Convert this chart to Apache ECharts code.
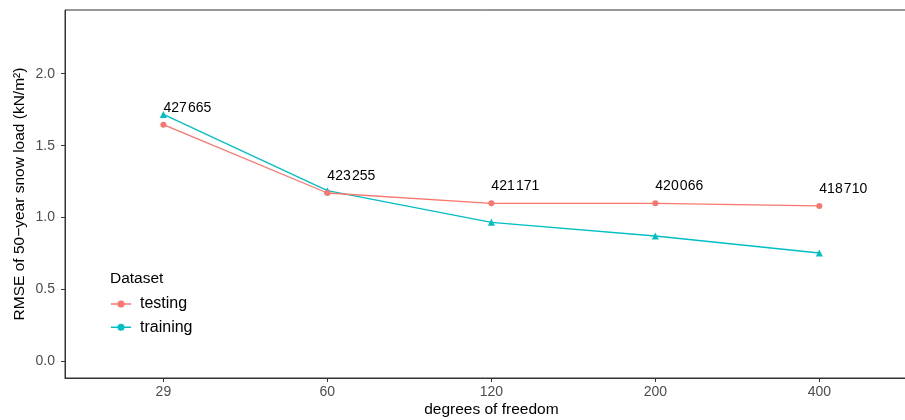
<!DOCTYPE html>
<html>
<head>
<meta charset="utf-8">
<script src="https://cdn.jsdelivr.net/npm/echarts@6/dist/echarts.min.js"></script>
<style>html,body{margin:0;padding:0;background:#fff}#c{width:905px;height:420px}</style>
</head>
<body>
<div id="c"></div>
<script>
var categories = ['29', '60', '120', '200', '400'];
var testing = [1.646, 1.171, 1.099, 1.099, 1.081];
var training = [1.717, 1.187, 0.967, 0.872, 0.754];
var pointLabels = ['427\u200a665', '423\u200a255', '421\u200a171', '420\u200a066', '418\u200a710'];
var yTicks = [0, 0.5, 1.0, 1.5, 2.0];

var FONT = 'Liberation Sans, Arial, sans-serif';
var xIdx = categories.map(function (c, i) { return i + 1; });
var testData = testing.map(function (v, i) { return [i + 1, v]; });
var trainData = training.map(function (v, i) { return [i + 1, v]; });

var iconPath = 'path://M0,2.8L20,2.8L20,4.2L0,4.2Z M13.5,3.5A3.5,3.5,0,1,1,6.5,3.5A3.5,3.5,0,1,1,13.5,3.5Z';

var chart = echarts.init(document.getElementById('c'), null, { renderer: 'canvas' });
chart.setOption({
  backgroundColor: '#ffffff',
  animation: false,
  textStyle: { fontFamily: FONT },
  title: {
    text: 'Dataset', left: 110, top: 271, padding: 0,
    textStyle: { fontFamily: FONT, fontSize: 15.5, fontWeight: 'normal', color: '#000' }
  },
  legend: {
    orient: 'vertical', left: 111, top: 296, itemGap: 7.2, padding: 0,
    itemWidth: 20, itemHeight: 7,
    textStyle: { fontFamily: FONT, fontSize: 16, color: '#000', padding: [0, 0, 0, 4] },
    data: [
      { name: 'testing', icon: iconPath },
      { name: 'training', icon: iconPath }
    ]
  },
  grid: {
    left: 65, top: 10, width: 852.7, height: 368,
    outerBoundsMode: 'none', containLabel: false,
    show: true, borderColor: '#333333', borderWidth: 1, backgroundColor: '#fff'
  },
  xAxis: {
    type: 'value', min: 0.4, max: 5.6,
    name: 'degrees of freedom', nameLocation: 'middle', nameGap: 24, nameMoveOverlap: false,
    nameTextStyle: { fontFamily: FONT, fontSize: 15.5, color: '#000' },
    axisLine: { show: true, onZero: false, lineStyle: { color: '#333333', width: 1 } },
    splitLine: { show: false },
    axisTick: { show: true, customValues: xIdx, length: 4, lineStyle: { color: '#333333', width: 1 } },
    axisLabel: {
      customValues: xIdx, margin: 7, fontFamily: FONT, fontSize: 14, color: '#4d4d4d',
      formatter: function (v) { return categories[Math.round(v) - 1] || ''; }
    }
  },
  yAxis: {
    type: 'value', min: -0.115, max: 2.443,
    name: 'RMSE of 50\u2212year snow load (kN/m\u00b2)', nameLocation: 'middle', nameGap: 37, nameRotate: 90,
    nameMoveOverlap: false,
    nameTextStyle: { fontFamily: FONT, fontSize: 15.5, color: '#000' },
    axisLine: { show: true, onZero: false, lineStyle: { color: '#333333', width: 1 } },
    splitLine: { show: false },
    axisTick: { show: true, customValues: yTicks, length: 4, lineStyle: { color: '#333333', width: 1 } },
    axisLabel: {
      customValues: yTicks, margin: 10, fontFamily: FONT, fontSize: 14, color: '#4d4d4d',
      formatter: function (v) { return v.toFixed(1); }
    }
  },
  series: [
    {
      name: 'testing', type: 'line', data: testData,
      symbol: 'circle', symbolSize: 6,
      itemStyle: { color: '#F8766D' },
      lineStyle: { color: '#F8766D', width: 1.3 },
      label: {
        show: true, position: 'top', distance: 14, align: 'left', verticalAlign: 'middle',
        fontFamily: FONT, fontSize: 14, color: '#000',
        formatter: function (p) { return pointLabels[p.dataIndex]; }
      },
      z: 3
    },
    {
      name: 'training', type: 'line', data: trainData,
      symbol: 'triangle', symbolSize: 7,
      itemStyle: { color: '#00BFC4' },
      lineStyle: { color: '#00BFC4', width: 1.3 },
      z: 2
    }
  ]
});
</script>
</body>
</html>
